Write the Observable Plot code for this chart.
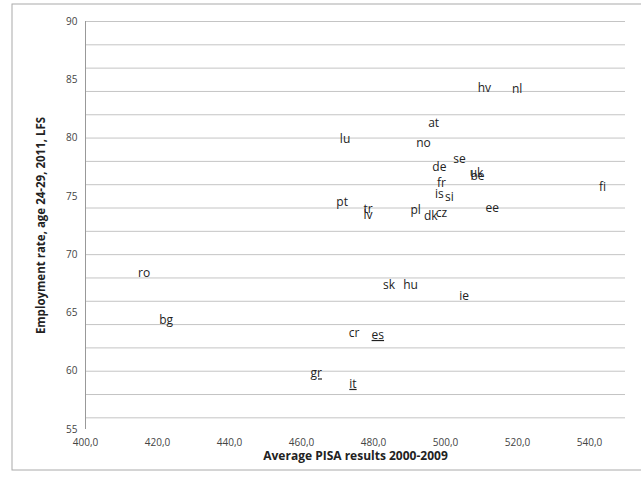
<!DOCTYPE html>
<html><head><meta charset="utf-8">
<script src="https://cdn.jsdelivr.net/npm/d3@7"></script>
<script src="https://cdn.jsdelivr.net/npm/@observablehq/plot@0.6"></script>
<style>body{margin:0;background:#fff;font-family:"Open Sans",sans-serif}</style>
</head><body><div id="chart"></div>
<script>
const codes = ["hv","nl","at","lu","no","de","se","uk","be","fr","fi","is","si","pt","tr","lv","pl","dk","cz","ee","ro","sk","hu","ie","bg","cr","es","gr","it"]
const pisa = [510.8,519.9,496.7,472.1,493.9,498.3,503.9,508.6,508.9,498.9,543.6,498.3,501.1,471.3,478.5,478.5,491.7,495.9,498.9,513.0,416.3,484.3,490.3,505.2,422.4,474.6,481.2,464.1,474.3]
const employment = [84.3,84.2,81.3,79.9,79.6,77.5,78.2,77.0,76.7,76.1,75.8,75.2,74.9,74.5,73.9,73.4,73.8,73.3,73.6,74.0,68.4,67.4,67.4,66.4,64.4,63.3,63.1,59.8,58.9]
const underlined = ["es","gr","it"]
const rows = codes.map((c,i)=>({c, x:pisa[i], y:employment[i]}))
const fmt = d => d3.format(".1f")(d).replace(".", ",")

let chart = Plot.plot({
  width: 641, height: 481,
  marginLeft: 85, marginRight: 16, marginTop: 21, marginBottom: 52,
  style: {fontFamily: "Open Sans, sans-serif", fontSize: "10px", color: "#444"},
  x: {domain: [400,550], ticks: d3.range(400,541,20), tickFormat: fmt, tickSize: 0, label: null},
  y: {domain: [55,90], ticks: d3.range(55,91,5), tickSize: 0, tickPadding: 8, label: null},
  marks: [
    Plot.gridY({stroke: "#c4c4c4", strokeOpacity: 1}),
    Plot.ruleX([400], {stroke: "#999"}),
    Plot.text(rows, {x:"x", y:"y", text:"c", fontSize: 12, fill: "#222", className: "lbl"}),
    Plot.text(["Average PISA results 2000-2009"], {frameAnchor: "bottom", dy: 30, fontWeight: "bold", fontSize: 12, fill: "#222"}),
    Plot.text(["Employment rate, age 24-29, 2011, LFS"], {frameAnchor: "left", textAnchor: "middle", dx: -44, rotate: -90, fontWeight: "bold", fontSize: 11.5, fill: "#222"})
  ]
});
d3.select("#chart").append(()=>chart);
d3.selectAll("#chart .lbl text")
  .style("text-decoration", function(){ return underlined.includes(this.textContent) ? "underline" : null });
d3.select(chart).append("rect").attr("x",12).attr("y",4).attr("width",640).attr("height",466)
  .attr("fill","none").attr("stroke","#aaa");
</script></body></html>
